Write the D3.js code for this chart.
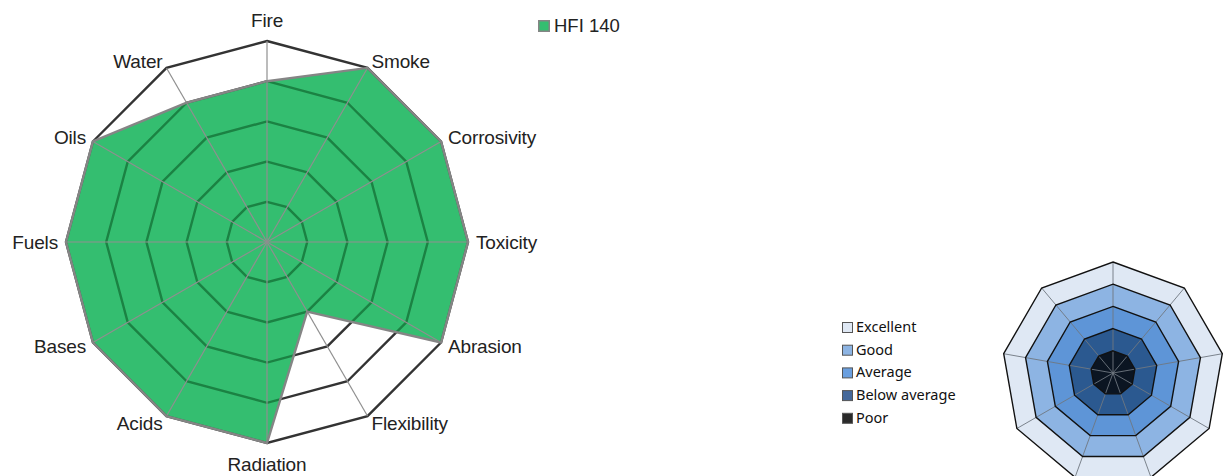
<!DOCTYPE html>
<html>
<head>
<meta charset="utf-8">
<script src="https://cdn.jsdelivr.net/npm/d3@7"></script>
<style>
  html, body { margin: 0; padding: 0; background: #fff; }
  svg { display: block; }
</style>
</head>
<body>
<svg id="chart" width="1229" height="476"></svg>
<script>
// radar chart: HFI 140 resistance ratings + rating key

// =============================================================================
// DATA
// =============================================================================

const axes = ["Fire", "Smoke", "Corrosivity", "Toxicity", "Abrasion", "Flexibility",
              "Radiation", "Acids", "Bases", "Fuels", "Oils", "Water"];
const hfiValues = [4, 5, 5, 5, 5, 2, 5, 5, 5, 5, 5, 4];
const seriesName = "HFI 140";
const gridLevels = [1, 2, 3, 4, 5];

const ratingLabels = ["Excellent", "Good", "Average", "Below average", "Poor"];
const ratingLevels = [5, 4, 3, 2, 1];
const ratingColors = ["#dfe8f4", "#8db4e3", "#5e95d7", "#2b5990", "#0b1522"];
const ratingKeyColors = ["#dfe8f4", "#8db4e3", "#6a9fdf", "#45689a", "#2a2a2a"];
const keyAxisCount = 9;

// =============================================================================
// HELPERS
// =============================================================================

const svg = d3.select("#chart");

function angleAt(i, n) { return (i / n) * 2 * Math.PI; }
function pointAt(i, n, r) {
  const a = angleAt(i, n);
  return [r * Math.sin(a), -r * Math.cos(a)];
}

// =============================================================================
// MAIN RADAR
// =============================================================================

const cx = 267, cy = 242, R = 201;
const n = axes.length;
const r = d3.scaleLinear().domain([0, 5]).range([0, R]);

const line = d3.line().curve(d3.curveLinearClosed);
const g = svg.append("g").attr("transform", `translate(${cx},${cy})`);

const ringPts = lv => d3.range(n).map(i => pointAt(i, n, r(lv)));
const dataPts = hfiValues.map((v, i) => pointAt(i, n, r(v)));

// rings outside the series area
g.selectAll(".ring")
  .data(gridLevels)
  .enter().append("path")
  .attr("class", "ring")
  .attr("d", d => line(ringPts(d)))
  .attr("fill", "none")
  .attr("stroke", "#333")
  .attr("stroke-width", 2.4);

// series area
g.append("path")
  .attr("d", line(dataPts))
  .attr("fill", "#34be70");

g.append("clipPath").attr("id", "areaClip")
  .append("path").attr("d", line(dataPts));

// rings inside the series area
g.append("g").attr("clip-path", "url(#areaClip)")
  .selectAll("path")
  .data(gridLevels)
  .enter().append("path")
  .attr("d", d => line(ringPts(d)))
  .attr("fill", "none")
  .attr("stroke", "#1b8243")
  .attr("stroke-width", 2.4);

// spokes
g.selectAll(".spoke")
  .data(axes)
  .enter().append("line")
  .attr("class", "spoke")
  .attr("x1", 0).attr("y1", 0)
  .attr("x2", (d, i) => pointAt(i, n, R)[0])
  .attr("y2", (d, i) => pointAt(i, n, R)[1])
  .attr("stroke", "#8f8f8f")
  .attr("stroke-width", 1.2);

// series outline
g.append("path")
  .attr("d", line(dataPts))
  .attr("fill", "none")
  .attr("stroke", "#858585")
  .attr("stroke-width", 2.4)
  .attr("stroke-linejoin", "miter");

// axis labels
g.selectAll(".axis-label")
  .data(axes)
  .enter().append("text")
  .attr("class", "axis-label")
  .each(function (d, i) {
    const a = angleAt(i, n);
    const s = Math.sin(a), c = Math.cos(a);
    const [x, y] = pointAt(i, n, R + 8);
    const anchor = s > 0.01 ? "start" : (s < -0.01 ? "end" : "middle");
    const extra = anchor === "middle" ? -c * 13 : 0;
    d3.select(this)
      .attr("x", x)
      .attr("y", y + extra)
      .attr("dy", "0.35em")
      .attr("text-anchor", anchor);
  })
  .style("font-family", "'Liberation Sans', Arial, sans-serif")
  .style("font-size", "19px")
  .style("letter-spacing", "-0.15px")
  .style("fill", "#222")
  .text(d => d);

// series legend
const leg = svg.append("g").attr("transform", "translate(538,20)");
leg.append("rect")
  .attr("x", 0.75).attr("y", 0.75)
  .attr("width", 10.5).attr("height", 10.5)
  .attr("fill", "#34be70")
  .attr("stroke", "#858585")
  .attr("stroke-width", 1.5);
leg.append("text")
  .attr("x", 16).attr("y", 6)
  .attr("dy", "0.35em")
  .style("font-family", "'Liberation Sans', Arial, sans-serif")
  .style("font-size", "18.5px")
  .style("fill", "#222")
  .text(seriesName);

// =============================================================================
// RATING KEY
// =============================================================================

const kx = 1113, ky = 373, kR = 111;
const kr = d3.scaleLinear().domain([0, 5]).range([0, kR]);
const kg = svg.append("g").attr("transform", `translate(${kx},${ky})`);
const kRing = lv => d3.range(keyAxisCount).map(i => pointAt(i, keyAxisCount, kr(lv)));

kg.selectAll(".band")
  .data(ratingLevels)
  .enter().append("path")
  .attr("class", "band")
  .attr("d", d => line(kRing(d)))
  .attr("fill", (d, i) => ratingColors[i])
  .attr("stroke", "none");

kg.selectAll(".kspoke")
  .data(d3.range(keyAxisCount))
  .enter().append("line")
  .attr("class", "kspoke")
  .attr("x1", 0).attr("y1", 0)
  .attr("x2", d => pointAt(d, keyAxisCount, kR)[0])
  .attr("y2", d => pointAt(d, keyAxisCount, kR)[1])
  .attr("stroke", "#6f7780")
  .attr("stroke-width", 0.9);

kg.selectAll(".kring")
  .data(ratingLevels)
  .enter().append("path")
  .attr("class", "kring")
  .attr("d", d => line(kRing(d)))
  .attr("fill", "none")
  .attr("stroke", "#111")
  .attr("stroke-width", 1.4);

const key = svg.append("g").attr("transform", "translate(842,322)");
const keyRow = key.selectAll(".krow")
  .data(ratingLabels)
  .enter().append("g")
  .attr("class", "krow")
  .attr("transform", (d, i) => `translate(0,${i * 22.7})`);

keyRow.append("rect")
  .attr("x", 0.5).attr("y", 0.5)
  .attr("width", 10).attr("height", 10)
  .attr("fill", (d, i) => ratingKeyColors[i])
  .attr("stroke", "#555")
  .attr("stroke-width", 1);

keyRow.append("text")
  .attr("x", 14).attr("y", 5)
  .attr("dy", "0.35em")
  .style("font-family", "'Noto Sans', 'Open Sans', sans-serif")
  .style("font-size", "14.5px")
  .style("fill", "#111")
  .text(d => d);
</script>
</body>
</html>
